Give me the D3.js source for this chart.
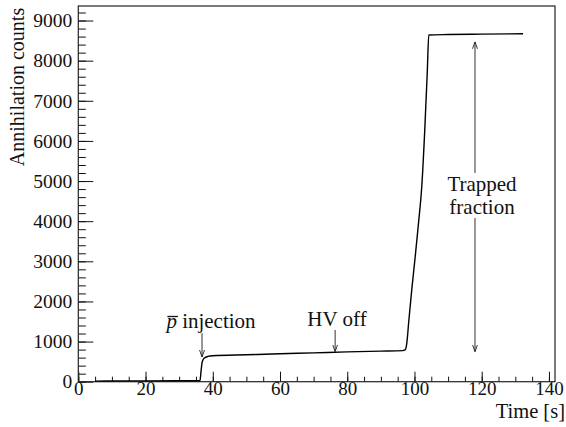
<!DOCTYPE html>
<html>
<head>
<meta charset="utf-8">
<script src="https://cdn.jsdelivr.net/npm/d3@7"></script>
<style>
  body { margin: 0; background: #fff; }
  text { font-family: "Liberation Serif", "Times New Roman", serif; fill: #111; }
</style>
</head>
<body>
<svg id="chart"></svg>
<script>
// Annihilation counts vs time
const time   = [5, 20, 36.2, 36.5, 36.8, 37.2, 37.8, 38.6, 40, 50, 60, 70, 80, 90, 96.5, 97.2, 97.7, 98.3, 99.2, 100.2, 101.2, 102.2, 103.1, 103.8, 104.25, 110, 120, 132.3];
const counts = [15, 20, 25, 250, 470, 560, 605, 630, 645, 670, 695, 718, 742, 762, 775, 790, 950, 1500, 2300, 3100, 3950, 4900, 6350, 7700, 8640, 8650, 8660, 8670];

const xTicks = [0, 20, 40, 60, 80, 100, 120, 140];
const yTicks = [0, 1000, 2000, 3000, 4000, 5000, 6000, 7000, 8000, 9000];

// annotations: [time, tip count, tail count]
const arrowInj = [36.8, 615, 1210];
const arrowHV = [76.4, 748, 1290];
const arrowTrap = [118, 8470, 748];

const width = 566, height = 427;
const svg = d3.select("#chart").attr("width", width).attr("height", height);

const x = d3.scaleLinear().domain([0, 141.8]).range([78.3, 555]);
const y = d3.scaleLinear().domain([0, 9362]).range([381.7, 6]);

const serif = "'Liberation Serif', 'Times New Roman', serif";
const serifText = g => g.attr("font-family", serif)
    .selectAll("text").style("font-family", serif).style("font-size", "19.5px");

// minor + major ticks (pointing inward, ROOT style)
svg.append("g")
    .attr("transform", `translate(0,${y(0)})`)
    .call(d3.axisBottom(x).tickValues(d3.range(0, 142, 5)).tickSize(-5).tickSizeOuter(0).tickFormat(""))
    .call(g => g.select(".domain").remove());
svg.append("g")
    .attr("transform", `translate(0,${y(0)})`)
    .call(d3.axisBottom(x).tickValues(xTicks).tickSize(-10).tickSizeOuter(0).tickPadding(0))
    .call(g => g.select(".domain").remove())
    .call(serifText)
    .call(g => g.selectAll("text").attr("dy", "0.7em").style("font-size", "19px"));

svg.append("g")
    .attr("transform", `translate(${x(0)},0)`)
    .call(d3.axisLeft(y).tickValues(d3.range(0, 9362, 200)).tickSize(-7.5).tickSizeOuter(0).tickFormat(""))
    .call(g => g.select(".domain").remove());
svg.append("g")
    .attr("transform", `translate(${x(0)},0)`)
    .call(d3.axisLeft(y).tickValues(yTicks).tickSize(-15).tickSizeOuter(0).tickPadding(6).tickFormat(d3.format("d")))
    .call(g => g.select(".domain").remove())
    .call(serifText);

svg.selectAll(".tick line").attr("stroke", "#111");

// frame
svg.append("rect")
    .attr("x", x(0)).attr("y", y.range()[1])
    .attr("width", x.range()[1] - x(0)).attr("height", y(0) - y.range()[1])
    .attr("fill", "none").attr("stroke", "#222").attr("stroke-width", 1.2);

// curve
const line = d3.line()
    .x((d, i) => x(time[i]))
    .y(d => y(d))
    .curve(d3.curveMonotoneX);
svg.append("path")
    .datum(counts)
    .attr("d", line)
    .attr("fill", "none")
    .attr("stroke", "#000")
    .attr("stroke-width", 1.4);

// arrows
const defs = svg.append("defs");
defs.append("marker")
    .attr("id", "head")
    .attr("viewBox", "0 0 10 10").attr("refX", 10).attr("refY", 5)
    .attr("markerWidth", 7).attr("markerHeight", 7)
    .attr("orient", "auto-start-reverse")
    .append("path").attr("d", "M0,1.5 L10,5 L0,8.5").attr("fill", "none").attr("stroke", "#222").attr("stroke-width", 1.3);

function arrow(a, both) {
  svg.append("line")
      .attr("x1", x(a[0])).attr("x2", x(a[0]))
      .attr("y1", y(a[2])).attr("y2", y(a[1]))
      .attr("stroke", "#333").attr("stroke-width", 1)
      .attr("marker-end", "url(#head)")
      .attr("marker-start", both ? "url(#head)" : null);
}
arrow(arrowInj);
arrow(arrowHV);
arrow(arrowTrap, true);

// gap in the double arrow for its label
svg.append("rect")
    .attr("x", x(arrowTrap[0]) - 40).attr("y", 173)
    .attr("width", 80).attr("height", 45).attr("fill", "#fff");

const lab = svg.append("g").style("font-size", "21px");
const inj = lab.append("text").attr("x", 211).attr("y", 328).attr("text-anchor", "middle");
inj.append("tspan").style("font-style", "italic").text("p");
inj.append("tspan").text(" injection");
// overline on the antiproton p
const pBox = inj.node().getExtentOfChar(0);
lab.append("line")
    .attr("x1", pBox.x + 1).attr("x2", pBox.x + pBox.width + 1)
    .attr("y1", 316.5).attr("y2", 316.5)
    .attr("stroke", "#111").attr("stroke-width", 1.3);

lab.append("text").attr("x", 337).attr("y", 326).attr("text-anchor", "middle").text("HV off");
lab.append("text").attr("x", 482).attr("y", 191).attr("text-anchor", "middle").text("Trapped");
lab.append("text").attr("x", 482).attr("y", 214).attr("text-anchor", "middle").text("fraction");

// axis titles
lab.append("text").attr("x", 565).attr("y", 418).attr("text-anchor", "end")
    .style("font-size", "20.5px").text("Time [s]");
lab.append("text")
    .attr("transform", "translate(24,87) rotate(-90)")
    .attr("text-anchor", "middle")
    .style("font-size", "20px")
    .text("Annihilation counts");
</script>
</body>
</html>
